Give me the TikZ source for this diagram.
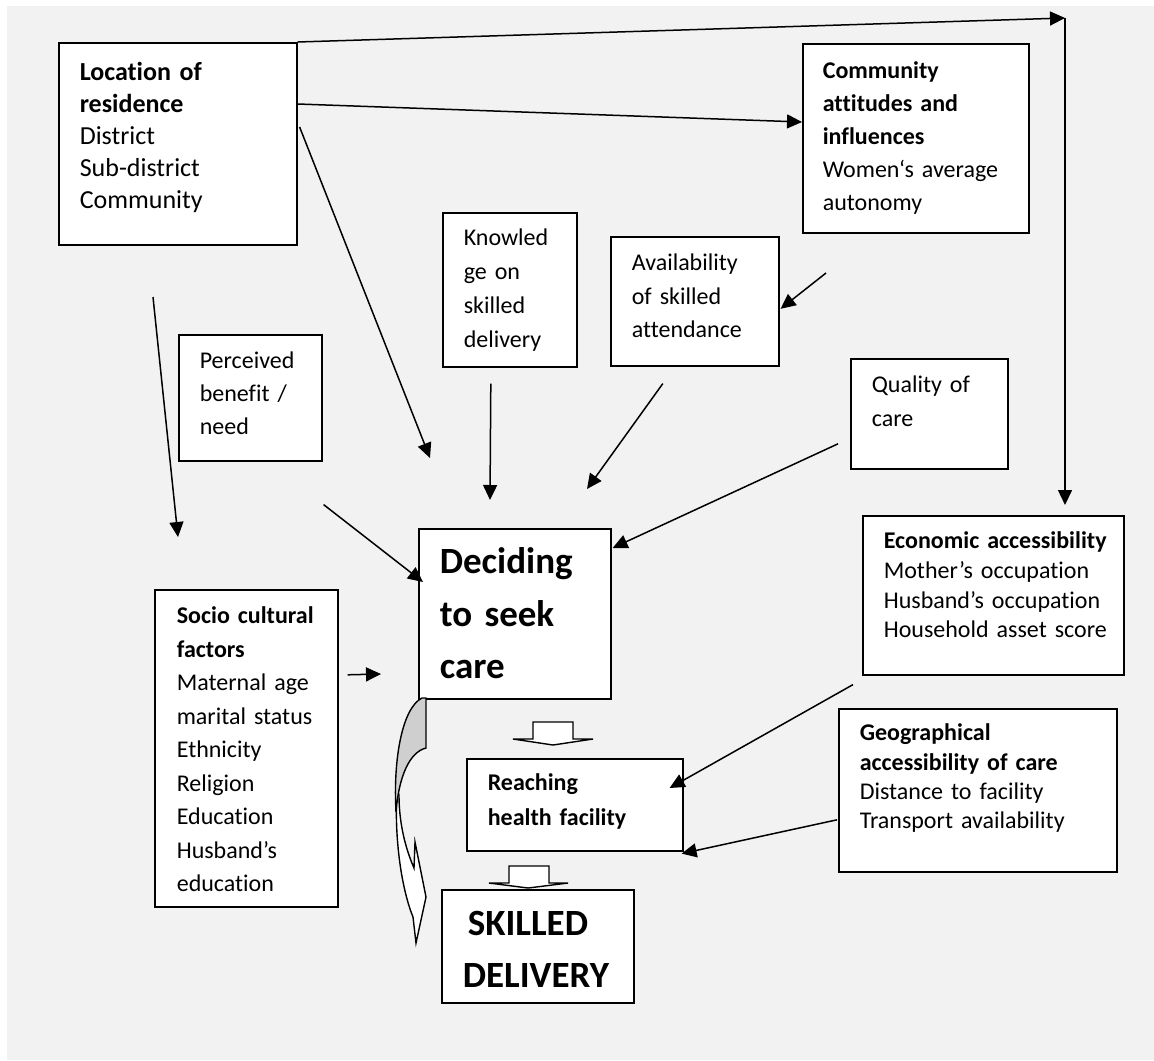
\documentclass[tikz,border=0pt]{standalone}
\usepackage{fontspec}
\setmainfont{Carlito}[Ligatures={TeX,NoCommon}]
\usetikzlibrary{arrows.meta,calc}
\definecolor{bggray}{HTML}{F2F2F2}
\definecolor{backgray}{HTML}{CFCFCF}
\begin{document}
\begin{tikzpicture}[x=0.5pt,y=-0.5pt,
  box/.style={draw, line width=0.8pt, fill=white, anchor=north west, inner ysep=0pt},
  arr/.style={line width=0.75pt, -{Triangle[length=7.5pt,width=7pt]}},
  blockarrow/.style={draw, line width=0.7pt, fill=white, line join=miter},
]
\useasboundingbox (0,0) rectangle (1154,1060);
\fill[white] (0,0) rectangle (1154,1060);
\fill[bggray] (7,6) rectangle (1154,1060);

% boxes
\node[box, inner xsep=10.5pt, text width=98pt, text height=19pt, text depth=82pt,
      font=\fontsize{13pt}{16pt}\selectfont] (loc) at (58,42)
  {\textbf{Location of}\\\textbf{residence}\\District\\Sub-district\\Community};
\node[box, inner xsep=10pt, text width=93pt, text height=17.5pt, text depth=77pt,
      font=\fontsize{12pt}{16.5pt}\selectfont] (comm) at (802,43)
  {\textbf{Community}\\\textbf{attitudes and}\\\textbf{influences}\\\mbox{Women‘s average}\\autonomy};
\node[box, inner xsep=10.5pt, text width=46pt, text height=16.5pt, text depth=60.5pt,
      font=\fontsize{12pt}{17pt}\selectfont] (know) at (442,212)
  {Knowled\\ge on\\skilled\\delivery};
\node[box, inner xsep=10.5pt, text width=63pt, text height=17pt, text depth=47.5pt,
      font=\fontsize{12pt}{16.75pt}\selectfont] (avail) at (610,236)
  {Availability\\of skilled\\attendance};
\node[box, inner xsep=10.5pt, text width=57.5pt, text height=17pt, text depth=38pt,
      font=\fontsize{12pt}{17pt}\selectfont] (qual) at (850,358)
  {Quality of\\care};
\node[box, inner xsep=10.5pt, text width=50.5pt, text height=17pt, text depth=46pt,
      font=\fontsize{12pt}{16.5pt}\selectfont] (perc) at (178,334)
  {Perceived\\benefit /\\need};
\node[box, inner xsep=10.5pt, text width=109.5pt, text height=16.5pt, text depth=63pt,
      font=\fontsize{12pt}{14.8pt}\selectfont] (econ) at (862,515)
  {\mbox{\textbf{Economic accessibility}}\\\mbox{Mother’s occupation}\\\mbox{Husband’s occupation}\\\mbox{Household asset score}};
\node[box, inner xsep=10.5pt, text width=118pt, text height=16pt, text depth=65.5pt,
      font=\fontsize{12pt}{14.6pt}\selectfont] (geo) at (838,708)
  {\textbf{Geographical}\\\mbox{\textbf{accessibility of care}}\\\mbox{Distance to facility}\\\mbox{Transport availability}};
\node[box, inner xsep=11pt, text width=69.5pt, text height=17pt, text depth=141.5pt,
      font=\fontsize{12pt}{16.75pt}\selectfont] (socio) at (154,589)
  {\mbox{\textbf{Socio cultural}}\\\textbf{factors}\\\mbox{Maternal age}\\\mbox{marital status}\\Ethnicity\\Religion\\Education\\Husband’s\\education};
\node[box, inner xsep=10.5pt, text width=87pt, text height=16pt, text depth=30pt,
      font=\fontsize{12pt}{17.25pt}\selectfont] (reach) at (466,758)
  {\textbf{Reaching}\\\mbox{\textbf{health facility}}};
\node[box, inner xsep=10.5pt, text width=75pt, text height=22.5pt, text depth=62.5pt,
      font=\fontsize{18.5pt}{26.25pt}\selectfont\bfseries] (decide) at (418,528)
  {Deciding\\to seek\\care};
\node[box, inner xsep=10.5pt, text width=75pt, text height=23pt, text depth=33.5pt,
      font=\fontsize{18.5pt}{26pt}\selectfont\bfseries] (skilled) at (441,889)
  {\hspace*{2.5pt}SKILLED\\\mbox{DELIVERY}};

% free ends
\coordinate (corner) at (1065,18);
\coordinate (econIn) at (1065,505);
\coordinate (locD) at (430,458);
\coordinate (leftTop) at (153,297);
\coordinate (leftBot) at (178,537);
\coordinate (knowEnd) at (490,500);
\coordinate (commOut) at (826,273);
\coordinate (availEnd) at (587,489);
\coordinate (socioEnd) at (381,674);

% connectors
\draw[arr] (loc.north east) -- (corner);
\draw[arr] (corner) -- (econIn);
\draw[arr] ($(loc.north east)+(0,62)$) -- ($(comm.north west)+(0,79)$);
\draw[arr] ($(loc.north east)+(2,85)$) -- (locD);
\draw[arr] (leftTop) -- (leftBot);
\draw[arr] ($(know.south)+(-19,16)$) -- (knowEnd);
\draw[arr] (commOut) -- ($(avail.east)+(1,7.5)$);
\draw[arr] ($(avail.south)+(-32,17)$) -- (availEnd);
\draw[arr] ($(qual.west)+(-12,30)$) -- ($(decide.north east)+(1,20)$);
\draw[arr] ($(perc.south east)+(1,43)$) -- ($(decide.north west)+(5,54)$);
\draw[arr] ($(socio.east)+(9,-73.5)$) -- (socioEnd);
\draw[arr] ($(econ.south west)+(-9,9)$) -- ($(reach.north east)+(-14,30)$);
\draw[arr] ($(geo.west)+(-1,29.5)$) -- ($(reach.south east)+(-2,2)$);

% block arrows
\draw[blockarrow] (533,722) -- (573,722) -- (573,739) -- (593,739) -- (553,745) -- (513,739) -- (533,739) -- cycle;
\draw[blockarrow] (509,866) -- (549,866) -- (549,883) -- (568,883) -- (528,888) -- (489,883) -- (509,883) -- cycle;

% curved arrow
\draw[line width=0.7pt, fill=white, line join=miter]
  (397,790) .. controls (394,840) and (402,890) .. (413,917) -- (416,943) -- (426,897) -- (415,842) -- (414,868)
  .. controls (404,845) and (399,820) .. (399,795) -- cycle;
\draw[line width=0.7pt, fill=backgray]
  (426,698) -- (426,748) .. controls (410,752) and (399,775) .. (396,812)
  .. controls (393,760) and (402,708) .. (422,698) -- cycle;
\end{tikzpicture}
\end{document}
